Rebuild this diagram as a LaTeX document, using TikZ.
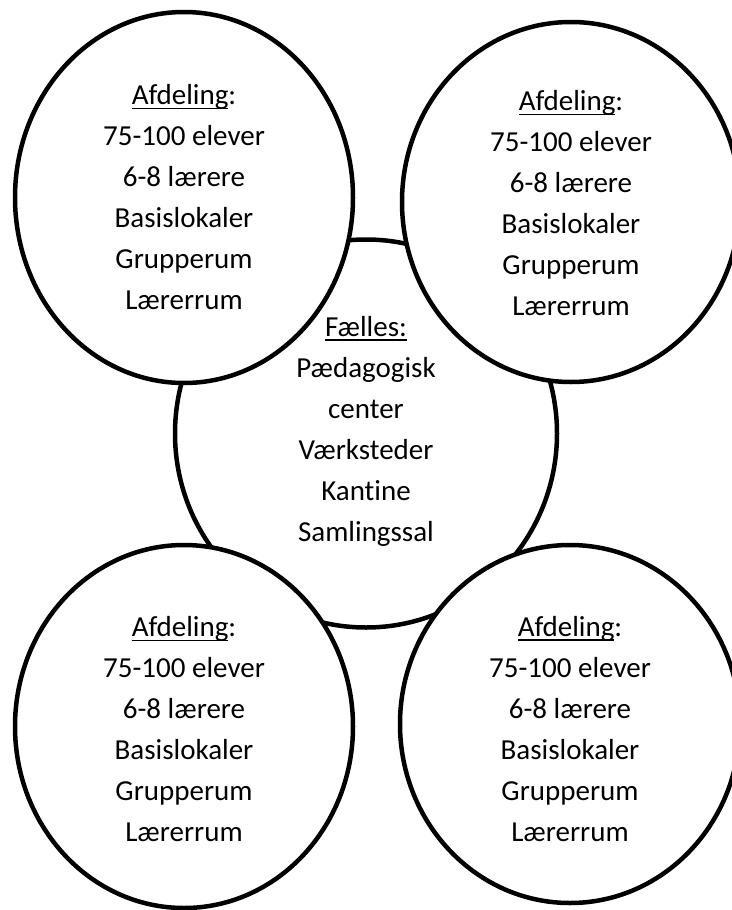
\documentclass[tikz,border=0pt]{standalone}
\usepackage{fontspec}
\setmainfont{Carlito}[Ligatures=NoCommon]
\usetikzlibrary{shapes.geometric}
\newcommand\myul[1]{\setbox0\hbox{#1}\rlap{\rule[-4.5pt]{\wd0}{1.8pt}}\box0}
\tikzset{
  room/.style={ellipse, draw=black, line width=4.5pt, fill=white, inner sep=0pt,
    align=center, font=\fontsize{29}{41}\selectfont},
}
\begin{document}
\begin{tikzpicture}[x=1pt,y=-1pt]
\fill[white] (0,0) rectangle (731,910);
\useasboundingbox (0,0) rectangle (731,910);
\node[room, minimum width=382pt, minimum height=388pt] (c) at (366,433.5)
  {\myul{Fælles:}\\Pædagogisk\\center\\Værksteder\\Kantine\\Samlingssal\rule[-9pt]{0pt}{0pt}};
\node[room, minimum width=338pt, minimum height=371pt] (tl) at (184,197.5)
  {\myul{Afdeling}:\\75-100 elever\\6-8 lærere\\Basislokaler\\Grupperum\\Lærerrum};
\node[room, minimum width=338pt, minimum height=360pt] (tr) at (571,202)
  {\rule{0pt}{23pt}\myul{Afdeling}:\\75-100 elever\\6-8 lærere\\Basislokaler\\Grupperum\\Lærerrum};
\node[room, minimum width=338pt, minimum height=363pt] (bl) at (184,726.5)
  {\rule{0pt}{26pt}\myul{Afdeling}:\\75-100 elever\\6-8 lærere\\Basislokaler\\Grupperum\\Lærerrum};
\node[room, minimum width=340pt, minimum height=358pt] (br) at (570,724)
  {\rule{0pt}{30pt}\myul{Afdeling}:\\75-100 elever\\6-8 lærere\\Basislokaler\\Grupperum\\Lærerrum};
\end{tikzpicture}
\end{document}
